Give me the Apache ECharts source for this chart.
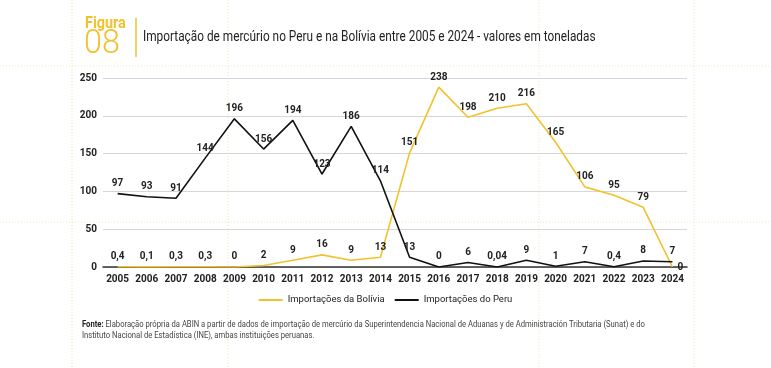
<!DOCTYPE html>
<html>
<head>
<meta charset="utf-8">
<script src="https://cdn.jsdelivr.net/npm/echarts@6/dist/echarts.min.js"></script>
<style>
html,body{margin:0;padding:0;background:#fff;}
#chart{width:771px;height:368px;}
</style>
</head>
<body>
<div id="chart"></div>
<script>
const years = ['2005','2006','2007','2008','2009','2010','2011','2012','2013','2014','2015','2016','2017','2018','2019','2020','2021','2022','2023','2024'];
const bolivia = [0.4,0.1,0.3,0.3,0,2,9,16,9,13,151,238,198,210,216,165,106,95,79,0];
const peru = [97,93,91,144,196,156,194,123,186,114,13,0,6,0.04,9,1,7,0.4,8,7];
const yTicks = [0,50,100,150,200,250];

const FONT = "Roboto,'DejaVu Sans',sans-serif";
const YELLOW = '#f2c12e';
const GUIDE = '#efe6b4';

const chart = echarts.init(document.getElementById('chart'), null, {renderer:'canvas'});
const fmt = p => String(p.value).replace('.', ',');

function guideV(x){return {type:'line',silent:true,z:-10,shape:{x1:x,y1:0,x2:x,y2:368},style:{stroke:GUIDE,lineWidth:1,lineDash:[1,2]}};}
function guideH(y){return {type:'line',silent:true,z:-10,shape:{x1:0,y1:y,x2:771,y2:y},style:{stroke:GUIDE,lineWidth:1,lineDash:[1,2]}};}

const labelBase = {show:true,position:'top',distance:5,formatter:fmt,fontFamily:FONT,fontSize:10,fontWeight:'bold',color:'#222'};
const boliviaData = bolivia.map((v,i) => i === bolivia.length-1 ? {value:v,label:{position:'right',distance:5,offset:[0,-5]}} : v);

chart.setOption({
  animation:false,
  textStyle:{fontFamily:FONT},
  grid:{left:103,right:84,top:78,bottom:101,containLabel:false},
  legend:{
    left:'center', top:290, itemWidth:24, itemHeight:2, itemGap:10,
    icon:'rect',
    textStyle:{fontFamily:'Roboto',fontSize:9.5,color:'#222'},
    data:['Importações da Bolívia','Importações do Peru']
  },
  xAxis:{
    type:'category', data:years, boundaryGap:true,
    axisLine:{show:true,lineStyle:{color:'#333',width:1.5}},
    axisTick:{show:false},
    axisLabel:{fontFamily:FONT,fontSize:10,fontWeight:'bold',color:'#222',margin:7,interval:0}
  },
  yAxis:{
    type:'value', min:yTicks[0], max:yTicks[yTicks.length-1], interval:50,
    axisLine:{show:false}, axisTick:{show:false},
    axisLabel:{fontFamily:FONT,fontSize:10,fontWeight:'bold',color:'#222',margin:6},
    splitLine:{lineStyle:{color:'#d6d6d6',width:1}}
  },
  series:[
    {
      name:'Importações da Bolívia', type:'line', data:boliviaData,
      symbol:'circle', symbolSize:0.01, showSymbol:true,
      lineStyle:{color:YELLOW,width:1.6}, itemStyle:{color:YELLOW},
      label:labelBase,
      labelLayout:{hideOverlap:false},
      z:3
    },
    {
      name:'Importações do Peru', type:'line', data:peru,
      symbol:'circle', symbolSize:0.01, showSymbol:true,
      lineStyle:{color:'#111',width:1.6}, itemStyle:{color:'#111'},
      label:labelBase,
      z:4
    }
  ],
  graphic:[
    guideV(72),guideV(228),guideV(539),guideV(694),
    guideH(66),guideH(222),
    {type:'text',x:85,y:16,scaleX:0.9,style:{text:'Figura',fill:YELLOW,font:"bold 16px "+FONT}},
    {type:'text',x:84,y:27,scaleX:0.95,style:{text:'08',fill:YELLOW,font:"300 34px "+FONT}},
    {type:'line',shape:{x1:136,y1:18,x2:136,y2:57},style:{stroke:YELLOW,lineWidth:1.5}},
    {type:'text',x:143,y:30,scaleX:0.845,style:{text:'Importação de mercúrio no Peru e na Bolívia entre 2005 e 2024 - valores em toneladas',fill:'#222',font:"14px "+FONT}},
    {type:'text',x:82,y:319,scaleX:0.805,style:{
      text:'{b|Fonte:} Elaboração própria da ABIN a partir de dados de importação de mercúrio da Superintendencia Nacional de Aduanas y de Administración Tributaria (Sunat) e do\nInstituto Nacional de Estadística (INE), ambas instituições peruanas.',
      fill:'#444', font:"9.5px "+FONT, lineHeight:11,
      rich:{b:{fontWeight:'bold',fill:'#222',fontSize:9.5,fontFamily:FONT,lineHeight:11}}
    }}
  ]
});
</script>
</body>
</html>
